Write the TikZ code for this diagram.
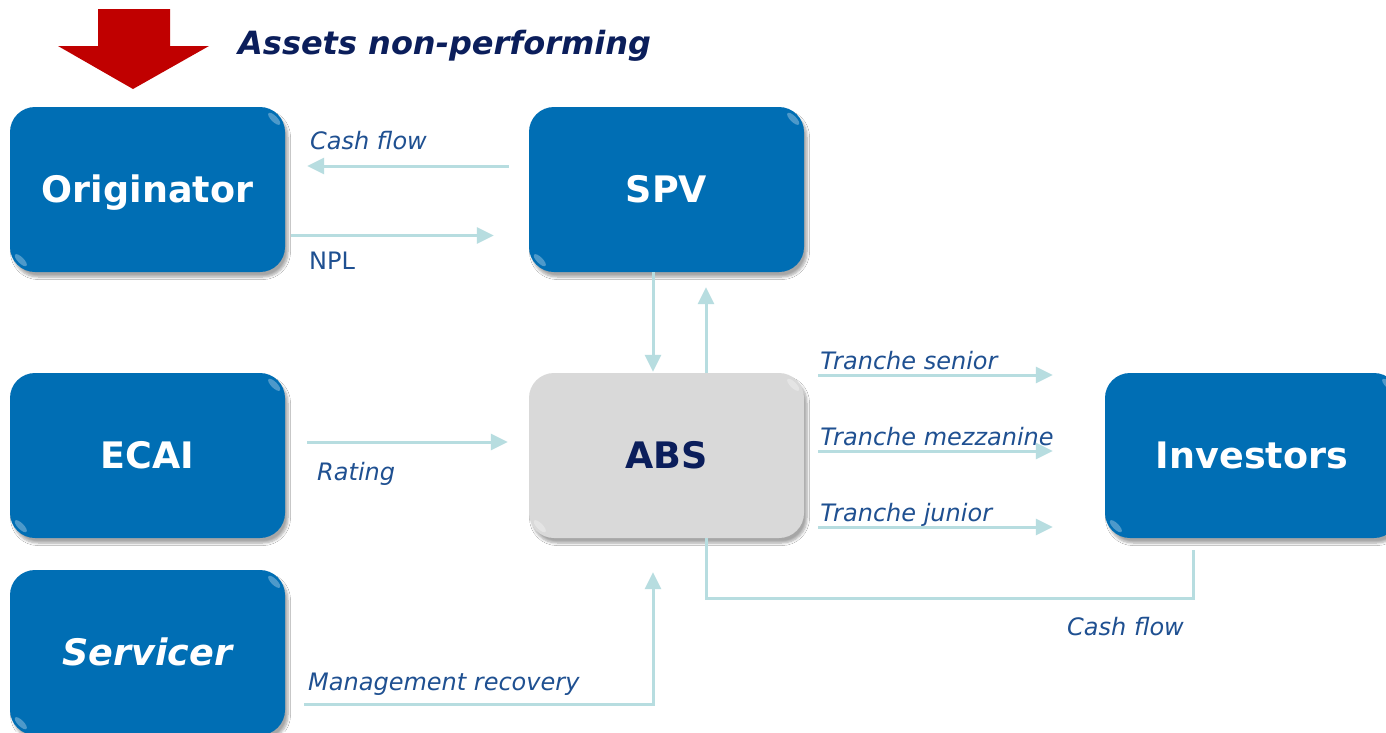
\documentclass[tikz,border=0pt]{standalone}
\usepackage{fontspec}
\setmainfont{DejaVu Sans}
\usetikzlibrary{calc,arrows.meta,shadows.blur}

\definecolor{boxblue}{RGB}{0,110,180}
\definecolor{boxgray}{RGB}{217,217,217}
\definecolor{flowcol}{RGB}{183,221,224}
\definecolor{lblblue}{RGB}{31,80,145}
\definecolor{navy}{RGB}{11,30,91}
\definecolor{arrred}{RGB}{192,0,0}

\tikzset{
  party/.style={rounded corners=25pt, minimum width=275pt, minimum height=165pt,
    fill=boxblue, text=white, font=\fontsize{36.5}{40}\selectfont\bfseries,
    text height=26.6pt, text depth=0pt,
    blur shadow={shadow xshift=3pt, shadow yshift=-5pt, shadow blur radius=2.5pt,
      shadow blur steps=6, shadow opacity=35}},
  flowline/.style={draw=flowcol, line width=3pt},
  flow/.style={flowline, -{Triangle[length=17pt,width=16pt]}},
  lbl/.style={anchor=base west, inner sep=0pt, text=lblblue, font=\fontsize{24}{28}\selectfont\itshape},
  gloss/.style={fill=white, opacity=0.3},
}

% little highlights on two corners of a box
\newcommand{\glossbox}[1]{%
  \fill[gloss] ($(#1.north east)+(-11,12)$) circle[x radius=8, y radius=3, rotate=-45];
  \fill[gloss] ($(#1.south west)+(11,-12)$) circle[x radius=8, y radius=3, rotate=-45];
}

\begin{document}
\begin{tikzpicture}[x=1pt, y=-1pt]
  \useasboundingbox (0,0) rectangle (1386,732);
  \fill[white] (0,0) rectangle (1386,732);

  % arrow and title on top
  \fill[arrred] (98,9) -- (170,9) -- (170,46) -- (209,46) -- (133,89) -- (58,46) -- (98,46) -- cycle;
  \node[anchor=base west, inner sep=0pt, text=navy, font=\fontsize{32}{36}\selectfont\bfseries\itshape]
    (title) at (238,54) {Assets non-performing};

  % boxes
  \node[party] (orig) at (147.5,189.5) {Originator};
  \node[party] (spv)  at (666.5,189.5) {SPV};
  \node[party] (ecai) at (147.5,455.5) {ECAI};
  \node[party, fill=boxgray, text=navy] (abs) at (666.5,455.5) {ABS};
  \node[party, minimum width=294pt] (inv) at (1252,455.5) {Investors};
  \node[party, font=\fontsize{36.5}{40}\selectfont\bfseries\itshape] (serv) at (147.5,652.5) {Servicer};
  \foreach \b in {orig,spv,ecai,abs,inv,serv} {\glossbox{\b}}

  % Originator <-> SPV
  \draw[flow] ($(spv.west)+(-20,-23.5)$) -- ($(orig.east)+(22,-23.5)$);
  \draw[flow] ($(orig.east)+(6,46)$) -- ($(spv.west)+(-35,46)$);
  \node[lbl] (lcash) at (310,149) {Cash flow};
  \node[lbl, font=\fontsize{24}{28}\selectfont] (lnpl) at (309,269) {NPL};

  % SPV <-> ABS
  \draw[flow] ($(spv.south)+(-13.5,0)$) -- ($(abs.north)+(-13.5,-1)$);
  \draw[flow] ($(abs.north)+(39.5,0)$) -- ($(spv.south)+(39.5,15)$);

  % tranches
  \foreach \dy/\t [count=\i] in {-80.5/senior, -4.5/mezzanine, 71.5/junior} {
    \draw[flow] ($(abs.east)+(14,\dy)$) -- ($(inv.west)+(-52,\dy)$);
    \node[lbl] (ltr\i) at ($(abs.east)+(16,\dy-6)$) {Tranche \t};
  }

  % rating
  \draw[flow] ($(ecai.east)+(22,-13.5)$) -- ($(abs.west)+(-21,-13.5)$);
  \node[lbl] (lrat) at (317,480) {Rating};

  % servicer
  \draw[flow] ($(serv.east)+(19,51.5)$) -| ($(abs.south)+(-13.5,34)$);
  \node[lbl] (lman) at (308,690) {Management recovery};

  % cash flow back from investors
  \draw[flowline] ($(inv.south)+(-59,12)$) |- ($(abs.south)+(39.5,60)$) -- ($(abs.south)+(39.5,0)$);
  \node[lbl] (lcash2) at (1067,635) {Cash flow};
\end{tikzpicture}
\end{document}
